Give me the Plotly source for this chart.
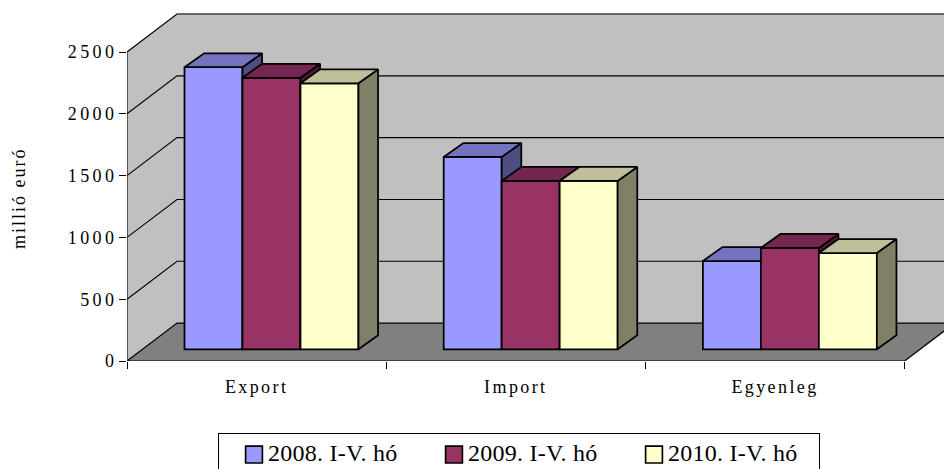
import plotly.graph_objects as go

categories = ["Export", "Import", "Egyenleg"]
series_names = ["2008. I-V. hó", "2009. I-V. hó", "2010. I-V. hó"]
values_2008 = [2282, 1556, 714]
values_2009 = [2197, 1362, 820]
values_2010 = [2152, 1362, 779]
y_ticks = [0, 500, 1000, 1500, 2000, 2500]

front_colors = ["#9999FF", "#993366", "#FFFFCC"]
top_colors = ["#7373BF", "#732650", "#BFBF99"]
side_colors = ["#4D4D80", "#4D1A33", "#808066"]

# 3D projection constants, in axis units
WALL_DX, WALL_DY = 0.193, 307
FRONT_DX, FRONT_DY = 0.0574, 94.7
BAR_DX, BAR_DY = 0.0756, 113
BAR_W = 0.2237
X_MAX = 817 / 259.2
Y_MAX = 351 / 0.1236
N = len(categories)
SERIF = "Liberation Serif"

fig = go.Figure()


def poly(xs, ys, fill, xa="x", ya="y", width=1.25, outline=True):
    fig.add_trace(go.Scatter(x=xs + xs[:1], y=ys + ys[:1], mode="lines", fill="toself",
                             fillcolor=fill, line=dict(color="black" if outline else fill, width=width),
                             hoverinfo="skip", showlegend=False, xaxis=xa, yaxis=ya))


top = y_ticks[-1]
poly([WALL_DX, N + WALL_DX, N + WALL_DX, WALL_DX], [WALL_DY, WALL_DY, top + WALL_DY, top + WALL_DY], "#C0C0C0", outline=False)
poly([0, WALL_DX, WALL_DX, 0], [0, WALL_DY, top + WALL_DY, top], "#C0C0C0", outline=False)
poly([0, N, N + WALL_DX, WALL_DX], [0, 0, WALL_DY, WALL_DY], "#808080")

# wall outline and gridlines
gx = [0, 0, WALL_DX, N + WALL_DX, None]
gy = [0, top, top + WALL_DY, top + WALL_DY, None]
for v in y_ticks[1:-1]:
    gx += [0, WALL_DX, N + WALL_DX, None]
    gy += [v, v + WALL_DY, v + WALL_DY, None]
fig.add_trace(go.Scatter(x=gx, y=gy, mode="lines", line=dict(color="black", width=1.1),
                         hoverinfo="skip", showlegend=False))

all_values = [values_2008, values_2009, values_2010]
for s, vals in enumerate(all_values):
    xa, ya = f"x{s + 2}", f"y{s + 2}"
    centers = [i + 0.5 + FRONT_DX + (s - 1) * BAR_W for i in range(N)]
    fig.add_trace(go.Bar(x=centers, y=vals, base=FRONT_DY, width=BAR_W, name=series_names[s],
                         marker=dict(color=front_colors[s], line=dict(color="black", width=1.75)),
                         xaxis=xa, yaxis=ya, hoverinfo="y"))
    for c, v in zip(centers, vals):
        l, r = c - BAR_W / 2, c + BAR_W / 2
        b, t = FRONT_DY, FRONT_DY + v
        poly([r, r + BAR_DX, r + BAR_DX, r], [b, b + BAR_DY, t + BAR_DY, t], side_colors[s], xa, ya, 1.75)
        poly([l, r, r + BAR_DX, l + BAR_DX], [t, t, t + BAR_DY, t + BAR_DY], top_colors[s], xa, ya, 1.75)

tick_font = dict(family=SERIF, size=18, color="black")
hidden_x = dict(range=[0, X_MAX], overlaying="x", visible=False)
hidden_y = dict(range=[0, Y_MAX], overlaying="y", visible=False)

fig.update_layout(
    width=944, height=469,
    margin=dict(l=127, r=0, t=10, b=108),
    paper_bgcolor="white", plot_bgcolor="white",
    barmode="overlay",
    font=dict(family=SERIF, color="black"),
    xaxis=dict(range=[0, X_MAX], tickvals=list(range(N + 1)), showticklabels=False,
               ticks="outside", ticklen=7, tickcolor="black", showgrid=False, zeroline=False, showline=False),
    yaxis=dict(range=[0, Y_MAX], tickvals=y_ticks, ticks="outside", ticklen=7, tickcolor="black",
               tickfont=tick_font, showgrid=False, zeroline=False, showline=False, ticklabelstandoff=-2),
    xaxis2=dict(range=[0, X_MAX], overlaying="x", anchor="y2", side="bottom",
                tickvals=[i + 0.5 for i in range(N)], ticktext=categories, ticks="", tickfont=tick_font,
                ticklabelstandoff=13, showgrid=False, zeroline=False, showline=False),
    yaxis2=hidden_y,
    xaxis3=hidden_x, yaxis3=hidden_y,
    xaxis4=hidden_x, yaxis4=hidden_y,
    annotations=[dict(text="millió euró", textangle=-90, xref="paper", x=0, xshift=-120, yref="y", y=1319,
                      showarrow=False, font=dict(family=SERIF, size=18, color="black"))],
    legend=dict(orientation="h", x=91 / 817, xanchor="left", y=36 / 469, yref="container", yanchor="top",
                bordercolor="black", borderwidth=1, bgcolor="white",
                font=dict(family=SERIF, size=24, color="black"),
                entrywidth=155, entrywidthmode="pixels", traceorder="normal", itemclick=False, itemdoubleclick=False),
    showlegend=True,
)

css = """
document.body.style.margin='0';
var s=document.createElement('style');
s.textContent='.xtick text,.x2tick text{letter-spacing:2.4px}.ytick text{letter-spacing:3.4px}.annotation-text{letter-spacing:2px}'
 +'.legendpoints path{transform:translate(35px,-1.5px) scale(1.4) !important;stroke-width:1.2px !important}.legendtext{transform:translate(9px,-4px);letter-spacing:0.25px}';
document.head.appendChild(s);
"""
fig.write_html("out.html", post_script=css, config={"displayModeBar": False})
